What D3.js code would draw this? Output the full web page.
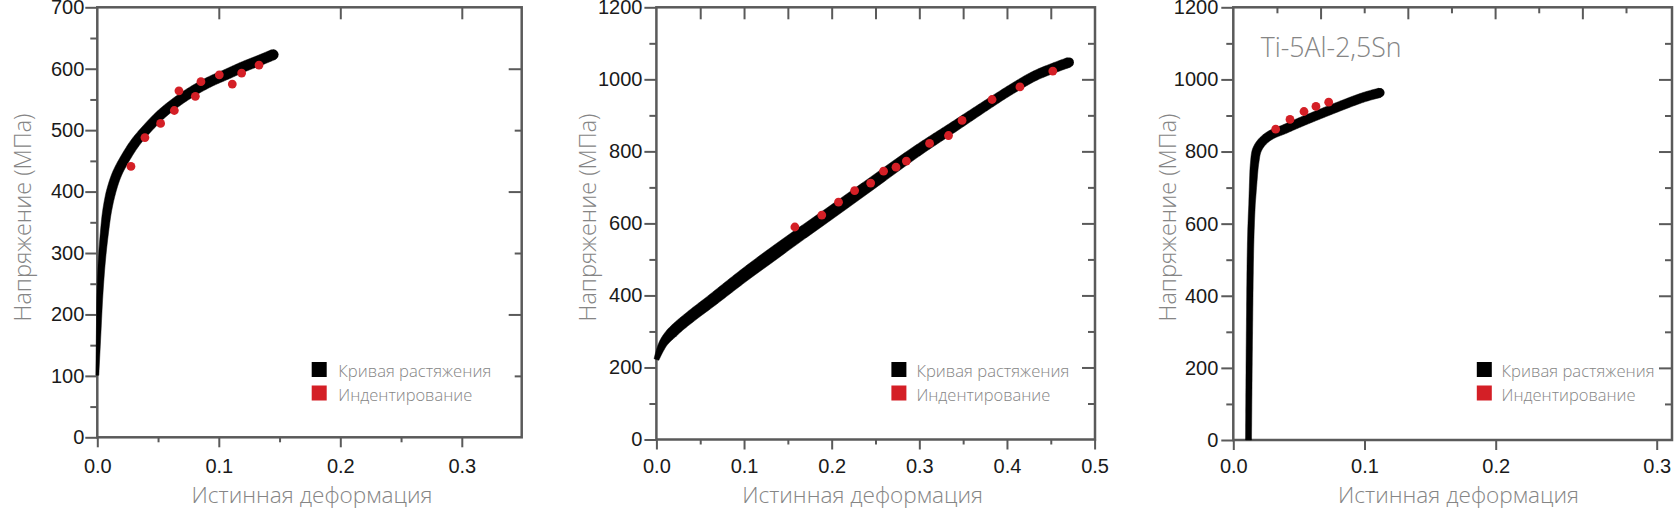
<!DOCTYPE html>
<html><head><meta charset="utf-8">
<script src="https://cdn.jsdelivr.net/npm/d3@7"></script>
<style>
html,body{margin:0;padding:0;background:#fff;}
svg{display:block;}
</style></head><body>
<svg id="chart" width="1680" height="516"></svg>
<script>
// ---------------- data ----------------
// Panel 1
const tensileStrain1 = [0, 0.0011, 0.0022, 0.0038, 0.0058, 0.0082, 0.0118, 0.0165, 0.0235, 0.031, 0.039, 0.0516, 0.0653, 0.079, 0.0928, 0.1065, 0.12, 0.134, 0.1449];
const tensileStress1 = [101, 169, 234, 289, 332, 370, 403, 430, 456, 479, 498, 524, 546, 564, 579, 591, 603, 614, 623];
const indentStrain1 = [0.0277, 0.0392, 0.0521, 0.0634, 0.0672, 0.0807, 0.0853, 0.1004, 0.1111, 0.1188, 0.1331];
const indentStress1 = [441, 488, 511, 532, 564, 555, 579, 590, 575, 593, 606];
// Panel 2
const tensileStrain2 = [0, 0.008, 0.02, 0.041, 0.061, 0.1, 0.134, 0.159, 0.198, 0.236, 0.298, 0.338, 0.379, 0.4075, 0.432, 0.456, 0.4707];
const tensileStress2 = [222, 268, 302, 345, 382, 456, 517, 561, 628, 694, 802, 866, 932, 976, 1010, 1034, 1047];
const indentStrain2 = [0.158, 0.1887, 0.2078, 0.2262, 0.2445, 0.2592, 0.2734, 0.2852, 0.3117, 0.3333, 0.3488, 0.383, 0.4148, 0.4523];
const indentStress2 = [590, 623, 659, 691, 712, 745, 756, 773, 822, 844, 886, 944, 979, 1023];
// Panel 3
const tensileStrain3 = [0.0116, 0.0123, 0.0134, 0.015, 0.0163, 0.018, 0.022, 0.0286, 0.039, 0.0483, 0.0737, 0.099, 0.1117];
const tensileStress3 = [0, 296, 573, 703, 770, 804, 827, 846, 862, 877, 915, 950, 963];
const indentStrain3 = [0.0323, 0.0432, 0.0539, 0.063, 0.0727];
const indentStress3 = [862, 889, 911, 925, 937];

// tick labels
const xTickLabels1 = [0, 0.1, 0.2, 0.3];
const yTickLabels1 = [0, 100, 200, 300, 400, 500, 600, 700];
const xTickLabels2 = [0, 0.1, 0.2, 0.3, 0.4, 0.5];
const yTickLabels2 = [0, 200, 400, 600, 800, 1000, 1200];
const xTickLabels3 = [0, 0.1, 0.2, 0.3];
const yTickLabels3 = [0, 200, 400, 600, 800, 1000, 1200];

// texts
const xTitle = "Истинная деформация";
const yTitle = "Напряжение (МПа)";
const legendLabels = ["Кривая растяжения", "Индентирование"];
const alloyLabel = "Ti-5Al-2,5Sn";

// ---------------- style ----------------
const FRAME = "#5a5a5a";
const GREY_TEXT = "#858585";
const RED = "#d41f26";
const TICK_FONT = "'Liberation Sans', Arial, sans-serif";
const LIGHT_FONT = "'Open Sans', Lato, sans-serif";

const svg = d3.select("#chart");

function zip(a, b) { return a.map((v, i) => [v, b[i]]); }

function fitText(sel, target, base) {
  sel.attr("font-size", base);
  const len = sel.node().getComputedTextLength();
  sel.attr("font-size", base * target / len);
}

// variable-width band along a centre path
function bandOutline(node, wScale, n) {
  const L = node.getTotalLength();
  const pts = d3.range(n + 1).map(i => node.getPointAtLength(L * i / n));
  const left = [], right = [];
  pts.forEach((p, i) => {
    const a = pts[Math.max(0, i - 1)], b = pts[Math.min(n, i + 1)];
    const dx = b.x - a.x, dy = b.y - a.y, len = Math.hypot(dx, dy) || 1;
    const nx = -dy / len, ny = dx / len, h = wScale(i / n) / 2;
    left.push([p.x + nx * h, p.y + ny * h]);
    right.push([p.x - nx * h, p.y - ny * h]);
  });
  return { d: "M" + left.join("L") + "L" + right.reverse().join("L") + "Z", end: pts[n], endW: wScale(1) };
}

const panels = [
  {
    left: 97.3, right: 521.7, top: 7.3, bottom: 437.3,
    x: d3.scaleLinear().domain([0, 0.35]).range([97.3, 522.55]),
    xTop: null,
    yDomain: [0, 700],
    xTicks: xTickLabels1, xMinor: [0.05, 0.15, 0.25],
    yTicks: yTickLabels1, yMinor: [50, 150, 250, 350, 450, 550, 650],
    topLong: [0.1, 0.2, 0.3], topShort: [],
    rightLong: [200, 400, 600], rightShort: [100, 300, 500],
    yPad: 1,
    tensile: zip(tensileStrain1, tensileStress1), indent: zip(indentStrain1, indentStress1),
    width: d3.scaleLinear().domain([0, 0.2, 0.45, 1]).range([3, 6, 9.5, 10.5]).clamp(true),
    xTitleX: 312, yTitleX: 30.5,
    legX: 311.7, legTextX: 338.3,
    alloy: false
  },
  {
    left: 656.4, right: 1095, top: 7.3, bottom: 439.5,
    x: d3.scaleLinear().domain([0, 0.5]).range([656.4, 1094.6]),
    xTop: null,
    yDomain: [0, 1200],
    xTicks: xTickLabels2, xMinor: [0.05, 0.15, 0.25, 0.35, 0.45],
    yTicks: yTickLabels2, yMinor: [100, 300, 500, 700, 900, 1100],
    topLong: [0.05, 0.1, 0.15, 0.2, 0.25, 0.3, 0.35, 0.4, 0.45], topShort: [],
    rightLong: [200, 400, 600, 800, 1000], rightShort: [100, 300, 500, 700, 900, 1100],
    yPad: 2,
    tensile: zip(tensileStrain2, tensileStress2), indent: zip(indentStrain2, indentStress2),
    width: d3.scaleLinear().domain([0, 0.06, 0.3, 0.6, 0.85, 1]).range([5, 11, 13, 11.5, 9.5, 10]).clamp(true),
    xTitleX: 862.6, yTitleX: 596,
    legX: 891.4, legTextX: 916.4,
    alloy: false
  },
  {
    left: 1233.3, right: 1672, top: 7.3, bottom: 440,
    x: d3.scaleLinear().domain([0, 0.2, 0.3]).range([1233.3, 1495.7, 1656.7]),
    xTop: d3.scaleLinear().domain([0, 0.3]).range([1233.3, 1626]),
    yDomain: [0, 1200],
    xTicks: xTickLabels3, xMinor: [],
    yTicks: yTickLabels3, yMinor: [100, 300, 500, 700, 900, 1100],
    topLong: [2, 4, 6, 8].map(k => k / 30), topShort: [1, 3, 5, 7, 9].map(k => k / 30),
    rightLong: [200, 400, 600, 800, 1000], rightShort: [100, 300, 500, 700, 900, 1100],
    yPad: 3,
    tensile: zip(tensileStrain3, tensileStress3), indent: zip(indentStrain3, indentStress3),
    width: d3.scaleLinear().domain([0, 0.55, 0.68, 1]).range([6, 6.5, 9, 9.5]).clamp(true),
    xTitleX: 1458.5, yTitleX: 1176,
    legX: 1476.8, legTextX: 1501.6,
    alloy: true
  }
];

function styleAxis(g) {
  g.select(".domain").remove();
  g.selectAll(".tick line").attr("stroke", FRAME).attr("stroke-width", 2);
  g.attr("font-family", TICK_FONT).attr("font-size", 20);
  g.selectAll(".tick text").attr("fill", "#1a1a1a");
}

panels.forEach(p => {
  const g = svg.append("g");
  const x = p.x;
  const xTop = p.xTop || p.x;
  const y = d3.scaleLinear().domain(p.yDomain).range([p.bottom, p.top]);

  // left axis
  g.append("g").attr("transform", `translate(${p.left},0)`)
    .call(d3.axisLeft(y).tickValues(p.yTicks).tickSize(12).tickPadding(p.yPad).tickFormat(d3.format("d")))
    .call(styleAxis);
  g.append("g").attr("transform", `translate(${p.left},0)`)
    .call(d3.axisLeft(y).tickValues(p.yMinor).tickSize(7).tickFormat(""))
    .call(styleAxis);
  // right axis (inward)
  g.append("g").attr("transform", `translate(${p.right},0)`)
    .call(d3.axisRight(y).tickValues(p.rightLong).tickSize(-13).tickFormat(""))
    .call(styleAxis);
  g.append("g").attr("transform", `translate(${p.right},0)`)
    .call(d3.axisRight(y).tickValues(p.rightShort).tickSize(-7).tickFormat(""))
    .call(styleAxis);
  // bottom axis
  const bx = g.append("g").attr("transform", `translate(0,${p.bottom})`)
    .call(d3.axisBottom(x).tickValues(p.xTicks).tickSize(10).tickFormat(d3.format(".1f")))
    .call(styleAxis);
  bx.selectAll(".tick text").attr("y", 473.3 - p.bottom).attr("dy", 0);
  if (p.xMinor.length) {
    g.append("g").attr("transform", `translate(0,${p.bottom})`)
      .call(d3.axisBottom(x).tickValues(p.xMinor).tickSize(5).tickFormat(""))
      .call(styleAxis);
  }
  // top axis (inward)
  g.append("g").attr("transform", `translate(0,${p.top})`)
    .call(d3.axisTop(xTop).tickValues(p.topLong).tickSize(-12).tickFormat(""))
    .call(styleAxis);
  if (p.topShort.length) {
    g.append("g").attr("transform", `translate(0,${p.top})`)
      .call(d3.axisTop(xTop).tickValues(p.topShort).tickSize(-6).tickFormat(""))
      .call(styleAxis);
  }

  // frame
  g.append("rect")
    .attr("x", p.left).attr("y", p.top)
    .attr("width", p.right - p.left).attr("height", p.bottom - p.top)
    .attr("fill", "none").attr("stroke", FRAME).attr("stroke-width", 2.5);

  // tensile curve: centre line through the data, drawn as a tapered band
  const line = d3.line().x(d => x(d[0])).y(d => y(d[1])).curve(d3.curveCatmullRom.alpha(0.5));
  const centre = g.append("path").datum(p.tensile)
    .attr("d", line).attr("fill", "none").attr("stroke", "none");
  const band = bandOutline(centre.node(), p.width, 400);
  g.append("path").attr("d", band.d).attr("fill", "#000").attr("stroke", "#000").attr("stroke-width", 0.5);
  g.append("circle").attr("cx", band.end.x).attr("cy", band.end.y).attr("r", band.endW / 2).attr("fill", "#000");

  // indentation points
  g.append("g").selectAll("circle").data(p.indent).join("circle")
    .attr("cx", d => x(d[0])).attr("cy", d => y(d[1]))
    .attr("r", 4.4).attr("fill", RED);

  // legend
  const legColors = ["#000", RED];
  const legY = [362, 385.5];
  const legBase = [377.3, 400.7];
  legendLabels.forEach((lab, i) => {
    g.append("rect").attr("x", p.legX).attr("y", legY[i]).attr("width", 15).attr("height", 15)
      .attr("fill", legColors[i]);
    const t = g.append("text").attr("x", p.legTextX).attr("y", legBase[i])
      .attr("font-family", LIGHT_FONT).attr("font-weight", 300)
      .attr("fill", GREY_TEXT).text(lab);
    fitText(t, i === 0 ? 153 : 134, 18);
  });

  // axis titles
  const xt = g.append("text").attr("x", p.xTitleX).attr("y", 503.3)
    .attr("text-anchor", "middle")
    .attr("font-family", LIGHT_FONT).attr("font-weight", 300)
    .attr("fill", GREY_TEXT).text(xTitle);
  fitText(xt, 241, 24);
  const yt = g.append("text")
    .attr("transform", `translate(${p.yTitleX},217.5) rotate(-90)`)
    .attr("text-anchor", "middle")
    .attr("font-family", LIGHT_FONT).attr("font-weight", 300)
    .attr("fill", GREY_TEXT).text(yTitle);
  fitText(yt, 208, 24);

  if (p.alloy) {
    const at = g.append("text").attr("x", 1260.7).attr("y", 57.3)
      .attr("font-family", LIGHT_FONT).attr("font-weight", 300)
      .attr("fill", GREY_TEXT).text(alloyLabel);
    fitText(at, 141, 28);
  }
});
</script>
</body></html>
